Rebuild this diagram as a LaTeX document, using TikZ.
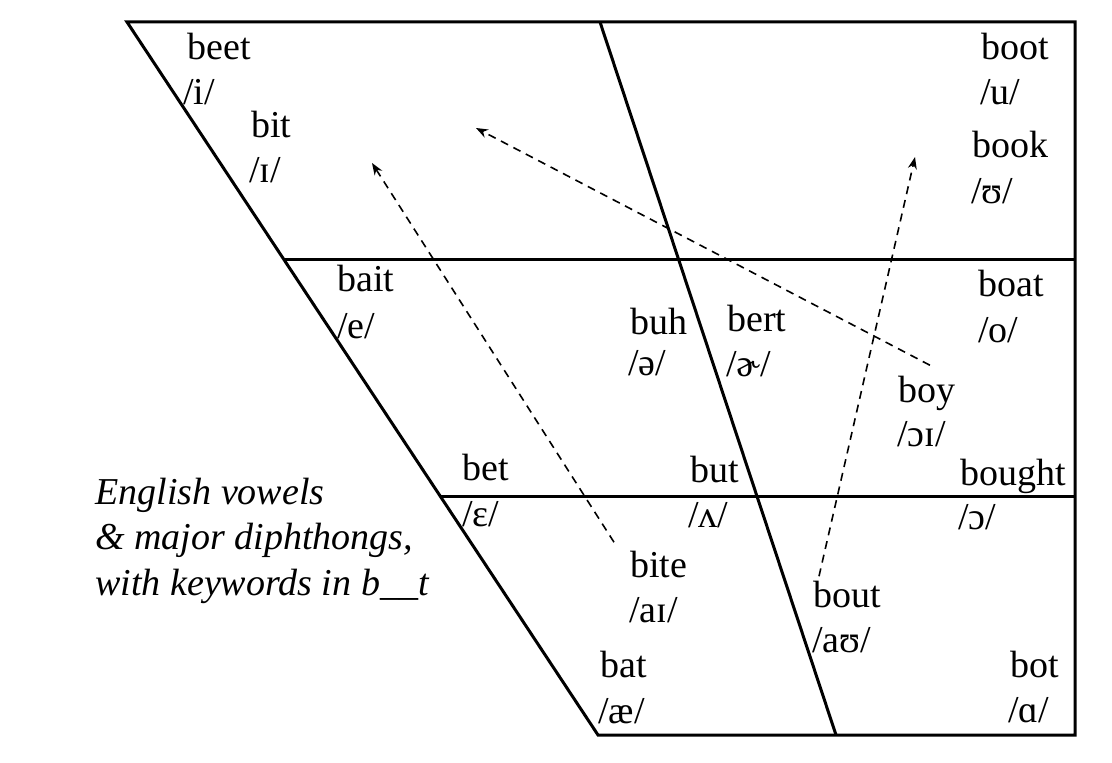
\documentclass[tikz,border=0pt]{standalone}
\usepackage{fontspec}
\setmainfont{Liberation Serif}
\usetikzlibrary{calc,arrows.meta}

\begin{document}
\begin{tikzpicture}[x=0.5pt, y=-0.5pt,
	chart/.style={line width=1.5pt, line join=miter},
	glide/.style={line width=0.8pt, dash pattern=on 4pt off 3pt, -{Stealth[length=6pt,width=4.5pt]}},
	word/.style={anchor=base west, inner sep=0pt, font=\fontsize{19}{23}\selectfont},
	note/.style={anchor=base west, inner sep=0pt, font=\fontsize{19}{23}\selectfont\itshape}]

	\useasboundingbox (0,0) rectangle (1112,763);

	% corners
	\coordinate (TL) at (127,22);
	\coordinate (TR) at (1075,22);
	\coordinate (BR) at (1075,735);
	\coordinate (BL) at (598,735);
	\coordinate (TM) at (600,22);
	\coordinate (BM) at (836,735);

	\coordinate (ML) at ($(TL)!0.3338!(BL)$);
	\coordinate (LL) at ($(TL)!0.6662!(BL)$);

	% chart lines
	\draw[chart] (TL) -- (TR) -- (BR) -- (BL) -- cycle;
	\draw[chart] (TM) -- (BM);
	\draw[chart] (ML) -- (ML -| TR);
	\draw[chart] (LL) -- (LL -| TR);

	% high vowels
	\node[word] (beet)     at (187,60)  {beet};
	\node[word] (beet-ipa) at (183,105) {/i/};
	\node[word] (bit)      at (251,138) {bit};
	\node[word] (bit-ipa)  at (249,183) {/ɪ/};
	\node[word] (boot)     at (981,60)  {boot};
	\node[word] (boot-ipa) at (980,105) {/u/};
	\node[word] (book)     at (972,158) {book};
	\node[word] (book-ipa) at (971,204) {/ʊ/};

	% mid vowels
	\node[word] (bait)     at (337,292) {bait};
	\node[word] (bait-ipa) at (337,339) {/e/};
	\node[word] (buh)      at (630,335) {buh};
	\node[word] (buh-ipa)  at (628,376) {/ə/};
	\node[word] (bert)     at (727,332) {bert};
	\node[word] (bert-ipa) at (726,377) {/ɚ/};
	\node[word] (boat)     at (978,297) {boat};
	\node[word] (boat-ipa) at (978,343) {/o/};
	\node[word] (boy)      at (898,403) {boy};
	\node[word] (boy-ipa)  at (897,447) {/ɔɪ/};

	% lower mid vowels
	\node[word] (bet)        at (462,481) {bet};
	\node[word] (bet-ipa)    at (462,527) {/ɛ/};
	\node[word] (but)        at (690,483) {but};
	\node[word] (but-ipa)    at (688,528) {/ʌ/};
	\node[word] (bought)     at (960,486) {bought};
	\node[word] (bought-ipa) at (958,530) {/ɔ/};

	% low vowels
	\node[word] (bite)     at (630,577) {bite};
	\node[word] (bite-ipa) at (629,622) {/aɪ/};
	\node[word] (bout)     at (813,607) {bout};
	\node[word] (bout-ipa) at (812,652) {/aʊ/};
	\node[word] (bat)      at (600,677) {bat};
	\node[word] (bat-ipa)  at (598,723) {/æ/};
	\node[word] (bot)      at (1010,677) {bot};
	\node[word] (bot-ipa)  at (1008,722) {/ɑ/};

	% caption
	\node[note] (note-1) at (95,505) {English vowels};
	\node[note] (note-2) at (95,550) {\& major diphthongs,};
	\node[note] (note-3) at (95,596) {with keywords in b\_\_t};

	% diphthong glides
	\coordinate (ai-end) at (372,163);
	\coordinate (oi-end) at (476,128);
	\coordinate (au-end) at (915,157);

	\draw[glide] ([shift={(-16,-8)}]bite.north west) -- (ai-end);
	\draw[glide] ([shift={(3,-11)}]boy.north) -- (oi-end);
	\draw[glide] ([shift={(6,-4)}]bout.north west) -- (au-end);

\end{tikzpicture}
\end{document}
